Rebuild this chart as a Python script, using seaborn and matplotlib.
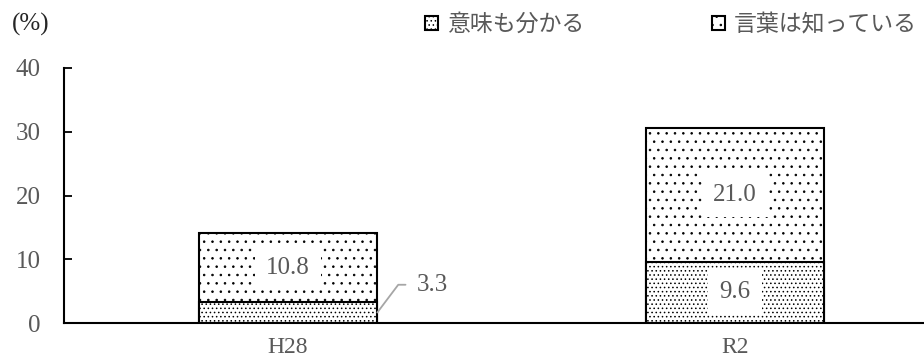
import matplotlib
matplotlib.use("Agg")
import matplotlib.pyplot as plt
import seaborn as sns
import pandas as pd
from matplotlib.patches import Patch

categories = ["H28", "R2"]
meaning_known = [3.3, 9.6]      # 意味も分かる
word_known = [10.8, 21.0]       # 言葉は知っている
series_names = ["意味も分かる", "言葉は知っている"]
yticks = [0, 10, 20, 30, 40]

sns.set_theme(style="white")
plt.rcParams['font.family'] = ['Liberation Serif', 'Noto Sans CJK JP']
plt.rcParams['hatch.linewidth'] = 0.6
plt.rcParams['hatch.color'] = 'black'

gray = '#595959'
df = pd.DataFrame({"cat": categories,
                   "bottom": meaning_known,
                   "top": word_known})
df["total"] = df["bottom"] + df["top"]

fig = plt.figure(figsize=(9.24, 3.61), dpi=100)
ax = fig.add_axes([64/924, 1-323/361, 860/924, (323-68)/361])

sns.barplot(data=df, x="cat", y="total", ax=ax, color="white",
            edgecolor="black", linewidth=1.5, width=0.40, saturation=1)
sns.barplot(data=df, x="cat", y="bottom", ax=ax, color="white",
            edgecolor="black", linewidth=1.5, width=0.40, saturation=1)
n = len(categories)
for i, p in enumerate(ax.patches):
    p.set_hatch('..' if i < n else '....')
    p.set_facecolor('white')

ax.set_xlim(-0.501, -0.501 + 860/447)
ax.set_ylim(0, 40)
ax.set_yticks(yticks)
ax.set_xlabel("")
ax.set_ylabel("")
ax.tick_params(axis='y', left=True, direction='in', length=6, width=1.3, colors='black',
               labelcolor=gray, labelsize=18, pad=17)
ax.tick_params(axis='x', bottom=False, length=0, labelcolor=gray, labelsize=17, pad=10)
for s in ['top', 'right']:
    ax.spines[s].set_visible(False)
for s in ['left', 'bottom']:
    ax.spines[s].set_color('black')
    ax.spines[s].set_linewidth(1.5)

box = dict(boxstyle='square,pad=0.45', fc='white', ec='none')
for i in range(n):
    b, t = meaning_known[i], word_known[i]
    ax.text(i, b + t / 2, f"{t:.1f}", ha='center', va='center',
            fontsize=18, color=gray, bbox=box)
    if b >= 5:
        ax.text(i, b / 2, f"{b:.1f}", ha='center', va='center',
                fontsize=18, color=gray, bbox=box)
    else:
        ax.annotate(f"{b:.1f}", xy=(i + 0.2, b * 0.5), xytext=(i + 0.289, b + 2.7),
                    ha='left', va='center', fontsize=18, color=gray,
                    arrowprops=dict(arrowstyle='-', color='#a6a6a6', lw=1.3,
                                    shrinkA=6, shrinkB=0,
                                    connectionstyle='angle,angleA=0,angleB=53,rad=0'))

fig.text(31/924, 1-24/361, "(%)", ha='center', va='center', fontsize=18, color='#262626')

handles = [Patch(facecolor='white', edgecolor='black', hatch='....', linewidth=1.5),
           Patch(facecolor='white', edgecolor='black', hatch='..', linewidth=1.5)]
leg = fig.legend(handles, series_names, loc='center', bbox_to_anchor=(671/924, 1-25/361),
                 ncol=2, frameon=False, fontsize=16.5, labelcolor=gray,
                 handlelength=0.55, handleheight=0.55, handletextpad=0.4, columnspacing=5.6)

fig.savefig("out.png", dpi=100)
